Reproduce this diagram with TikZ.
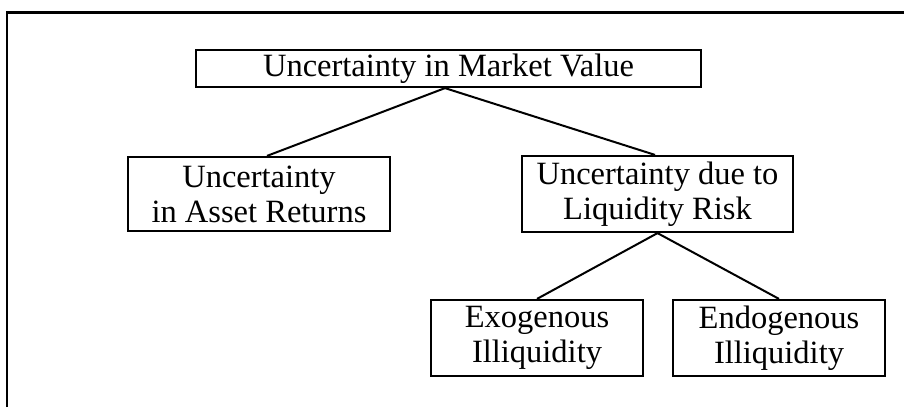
\documentclass[tikz,border=0pt]{standalone}
\usepackage{fontspec}
\setmainfont{Liberation Serif}
\begin{document}
\begin{tikzpicture}[x=1pt,y=-1pt,
  box/.style={draw,line width=2.2pt,inner sep=0pt,align=center,
    font=\fontsize{32.5}{35}\selectfont},
  link/.style={line width=2pt}]
\useasboundingbox (0,0) rectangle (904,407);
\coordinate (fa) at (7,407);
\coordinate (fb) at (7,12.5);
\coordinate (fc) at (904,12.5);
\draw[line width=2.2pt] (fa) -- (fb) -- (fc);
\node[box,minimum width=505pt,minimum height=37pt] (top) at (448.5,68.5) {Uncertainty in Market Value};
\node[box,minimum width=262pt,minimum height=74pt] (left) at (259,194) {Uncertainty\\in Asset Returns};
\node[box,minimum width=271pt,minimum height=76pt] (right) at (657.5,194) {Uncertainty due to\\Liquidity Risk};
\node[box,minimum width=212pt,minimum height=76pt] (exo) at (537,338) {Exogenous\\Illiquidity};
\node[box,minimum width=212pt,minimum height=76pt] (endo) at (779,338) {Endogenous\\Illiquidity};
\draw[link] ([xshift=-3.5pt]top.south) -- ([xshift=8pt]left.north);
\draw[link] ([xshift=-3.5pt]top.south) -- ([xshift=-2.5pt]right.north);
\draw[link] (right.south) -- (exo.north);
\draw[link] (right.south) -- (endo.north);
\end{tikzpicture}
\end{document}
